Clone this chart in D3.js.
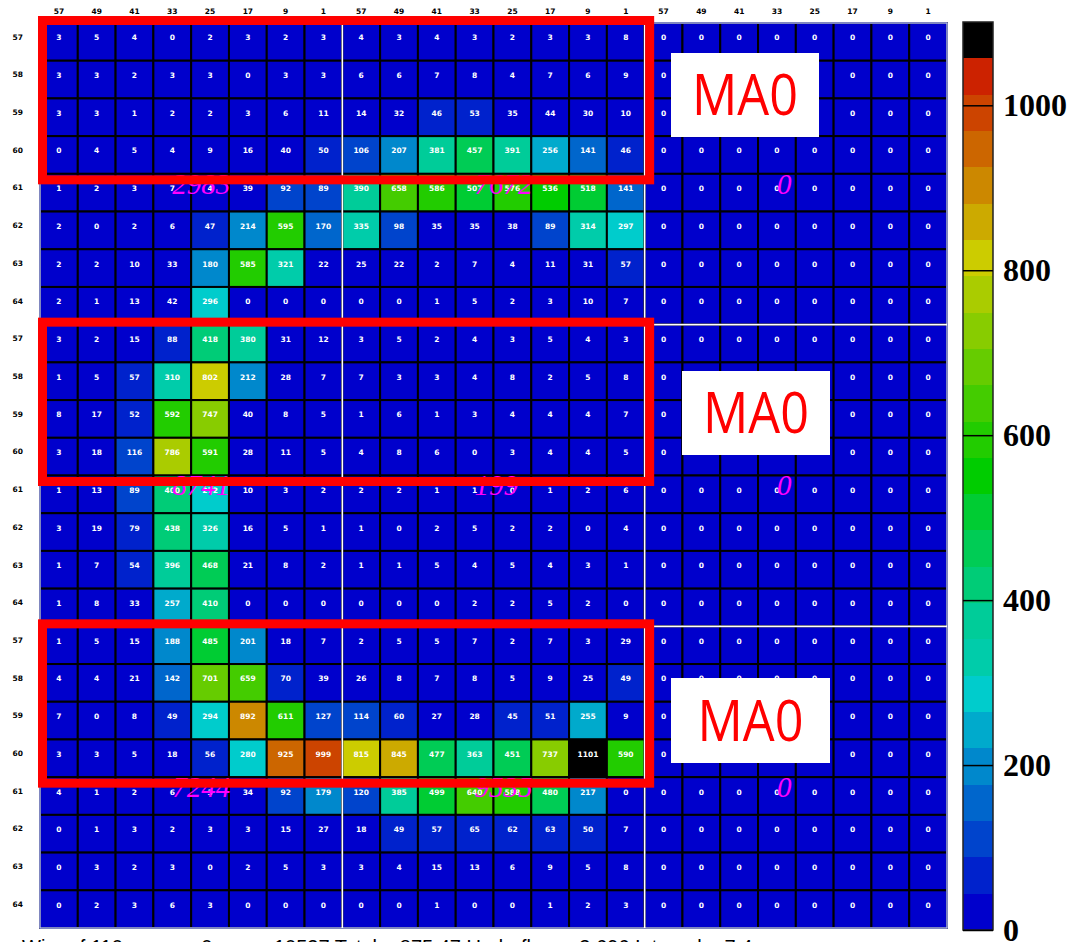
<!DOCTYPE html>
<html>
<head>
<meta charset="utf-8">
<script src="https://cdn.jsdelivr.net/npm/d3@7"></script>
<style>
  html, body { margin: 0; padding: 0; background: #fff; }
  svg { display: block; }
</style>
</head>
<body>
<svg id="chart" width="1073" height="942"></svg>
<script>
// Channel labels along x (three readout blocks) and y (three groups)
const colLabels = [57, 49, 41, 33, 25, 17, 9, 1];
const rowLabels = [57, 58, 59, 60, 61, 62, 63, 64];

// Hit counts per cell, 24 columns (three blocks of 8), one array per group of 8 rows
const groupTop = [
  [3, 5, 4, 0, 2, 3, 2, 3,        4, 3, 4, 3, 2, 3, 3, 8,            0, 0, 0, 0, 0, 0, 0, 0],
  [3, 3, 2, 3, 3, 0, 3, 3,        6, 6, 7, 8, 4, 7, 6, 9,            0, 0, 0, 0, 0, 0, 0, 0],
  [3, 3, 1, 2, 2, 3, 6, 11,       14, 32, 46, 53, 35, 44, 30, 10,    0, 0, 0, 0, 0, 0, 0, 0],
  [0, 4, 5, 4, 9, 16, 40, 50,     106, 207, 381, 457, 391, 256, 141, 46, 0, 0, 0, 0, 0, 0, 0, 0],
  [1, 2, 3, 7, 4, 39, 92, 89,     390, 658, 586, 507, 576, 536, 518, 141, 0, 0, 0, 0, 0, 0, 0, 0],
  [2, 0, 2, 6, 47, 214, 595, 170, 335, 98, 35, 35, 38, 89, 314, 297, 0, 0, 0, 0, 0, 0, 0, 0],
  [2, 2, 10, 33, 180, 585, 321, 22, 25, 22, 2, 7, 4, 11, 31, 57,     0, 0, 0, 0, 0, 0, 0, 0],
  [2, 1, 13, 42, 296, 0, 0, 0,    0, 0, 1, 5, 2, 3, 10, 7,           0, 0, 0, 0, 0, 0, 0, 0]
];
const groupMid = [
  [3, 2, 15, 88, 418, 380, 31, 12, 3, 5, 2, 4, 3, 5, 4, 3,  0, 0, 0, 0, 0, 0, 0, 0],
  [1, 5, 57, 310, 802, 212, 28, 7, 7, 3, 3, 4, 8, 2, 5, 8,  0, 0, 0, 0, 0, 0, 0, 0],
  [8, 17, 52, 592, 747, 40, 8, 5,  1, 6, 1, 3, 4, 4, 4, 7,  0, 0, 0, 0, 0, 0, 0, 0],
  [3, 18, 116, 786, 591, 28, 11, 5, 4, 8, 6, 0, 3, 4, 4, 5, 0, 0, 0, 0, 0, 0, 0, 0],
  [1, 13, 89, 400, 272, 10, 3, 2, 2, 2, 1, 1, 0, 1, 2, 6,   0, 0, 0, 0, 0, 0, 0, 0],
  [3, 19, 79, 438, 326, 16, 5, 1, 1, 0, 2, 5, 2, 2, 0, 4,   0, 0, 0, 0, 0, 0, 0, 0],
  [1, 7, 54, 396, 468, 21, 8, 2,  1, 1, 5, 4, 5, 4, 3, 1,   0, 0, 0, 0, 0, 0, 0, 0],
  [1, 8, 33, 257, 410, 0, 0, 0,   0, 0, 0, 2, 2, 5, 2, 0,   0, 0, 0, 0, 0, 0, 0, 0]
];
const groupBot = [
  [1, 5, 15, 188, 485, 201, 18, 7,   2, 5, 5, 7, 2, 7, 3, 29,            0, 0, 0, 0, 0, 0, 0, 0],
  [4, 4, 21, 142, 701, 659, 70, 39,  26, 8, 7, 8, 5, 9, 25, 49,          0, 0, 0, 0, 0, 0, 0, 0],
  [7, 0, 8, 49, 294, 892, 611, 127,  114, 60, 27, 28, 45, 51, 255, 9,    0, 0, 0, 0, 0, 0, 0, 0],
  [3, 3, 5, 18, 56, 280, 925, 999,   815, 845, 477, 363, 451, 737, 1101, 590, 0, 0, 0, 0, 0, 0, 0, 0],
  [4, 1, 2, 6, 3, 34, 92, 179,       120, 385, 499, 640, 588, 480, 217, 0, 0, 0, 0, 0, 0, 0, 0, 0],
  [0, 1, 3, 2, 3, 3, 15, 27,         18, 49, 57, 65, 62, 63, 50, 7,      0, 0, 0, 0, 0, 0, 0, 0],
  [0, 3, 2, 3, 0, 2, 5, 3,           3, 4, 15, 13, 6, 9, 5, 8,           0, 0, 0, 0, 0, 0, 0, 0],
  [0, 2, 3, 6, 3, 0, 0, 0,           0, 0, 1, 0, 0, 1, 2, 3,             0, 0, 0, 0, 0, 0, 0, 0]
];

// Colour levels of the z palette, lowest to highest
const palette = [
  "#0000cc", "#0022cc", "#0044cc", "#0066cc", "#0088cc", "#00aacc", "#00cccc",
  "#00ccaa", "#00cc99", "#00cc77", "#00cc55", "#00cc33", "#00cc00", "#22cc00",
  "#44cc00", "#66cc00", "#88cc00", "#aacc00", "#cccc00", "#ccaa00", "#cc8800",
  "#cc6600", "#cc4400", "#cc2200", "#000000"
];
const zTicks = [0, 200, 400, 600, 800, 1000];
const statsLine = "Wire of 110   mean = 0   rms = 10537   Total = 875.47   Underflow = 3.696   Integral = 7.4";

// ---- layout ----
const svg = d3.select("#chart");
const grid = { left: 40, top: 23, right: 947, bottom: 928 };
const nCols = 24, nRows = 24;

const rows = [...groupTop, ...groupMid, ...groupBot];
const cells = [];
rows.forEach((r, ri) => r.forEach((v, ci) => cells.push({ row: ri, col: ci, v })));
const zMax = d3.max(cells, d => d.v);

const x = d3.scaleBand().domain(d3.range(nCols)).range([grid.left, grid.right]).paddingInner(0);
const y = d3.scaleBand().domain(d3.range(nRows)).range([grid.top, grid.bottom]).paddingInner(0);
const color = d3.scaleQuantize().domain([0, zMax]).range(palette);

// ---- cells ----
svg.append("g").selectAll("rect").data(cells).join("rect")
  .attr("x", d => x(d.col)).attr("y", d => y(d.row))
  .attr("width", x.bandwidth()).attr("height", y.bandwidth())
  .attr("fill", d => color(d.v))
  .attr("stroke", "#000").attr("stroke-width", 2);

// outer frame and block separators
svg.append("rect")
  .attr("x", grid.left).attr("y", grid.top)
  .attr("width", grid.right - grid.left).attr("height", grid.bottom - grid.top)
  .attr("fill", "none").attr("stroke", "#aab4ff").attr("stroke-width", 1.5);
const sep = svg.append("g").attr("stroke", "#fff").attr("stroke-width", 1.6);
[8, 16].forEach(i => {
  sep.append("line").attr("x1", x(i)).attr("x2", x(i)).attr("y1", grid.top).attr("y2", grid.bottom);
  sep.append("line").attr("x1", x(16)).attr("x2", grid.right).attr("y1", y(i)).attr("y2", y(i));
});

// cell values
svg.append("g").selectAll("text").data(cells).join("text")
  .attr("x", d => x(d.col) + x.bandwidth() / 2)
  .attr("y", d => y(d.row) + y.bandwidth() / 2 - 4)
  .attr("text-anchor", "middle").attr("dominant-baseline", "central")
  .attr("font-family", "DejaVu Sans, sans-serif").attr("font-weight", "bold")
  .attr("font-size", 7.5).attr("fill", "#fff")
  .text(d => d.v);

// ---- axis labels ----
const colAxis = d3.axisTop(x).tickSize(0).tickFormat(i => colLabels[i % 8]);
svg.append("g").attr("transform", `translate(0,${grid.top - 6})`).call(colAxis)
  .call(g => g.select(".domain").remove())
  .selectAll("text").attr("font-family", "DejaVu Sans, sans-serif")
  .attr("font-weight", "bold").attr("font-size", 7.5).attr("fill", "#000");

const rowAxis = d3.axisLeft(y).tickSize(0).tickFormat(i => rowLabels[i % 8]);
svg.append("g").attr("transform", `translate(${grid.left - 14},0)`).call(rowAxis)
  .call(g => g.select(".domain").remove())
  .selectAll("text").attr("font-family", "DejaVu Sans, sans-serif")
  .attr("font-weight", "bold").attr("font-size", 7.5).attr("fill", "#000")
  .attr("dy", "-0.3em");

// ---- block totals (magenta) ----
const blocks = [];
[0, 1, 2].forEach(g => [0, 1, 2].forEach(b => {
  const total = d3.sum(rows.slice(g * 8, g * 8 + 8), r => d3.sum(r.slice(b * 8, b * 8 + 8)));
  blocks.push({ g, b, total });
}));
svg.append("g").selectAll("text").data(blocks).join("text")
  .attr("x", d => x(d.b * 8 + 3) + x.bandwidth() / 2)
  .attr("y", d => y(d.g * 8 + 4) + y.bandwidth() / 2 + 1)
  .attr("font-family", "Liberation Serif, serif").attr("font-style", "italic")
  .attr("font-size", 29).attr("fill", "#ff00ff")
  .text(d => d.total);

// ---- module outlines ----
const modules = [0, 1, 2];
svg.append("g").selectAll("rect").data(modules).join("rect")
  .attr("x", x(0) + 2.5)
  .attr("y", g => y(g * 8) - 2.5)
  .attr("width", x(16) - x(0) + 2.5)
  .attr("height", g => y(g * 8 + 4) - y(g * 8) + 8.5)
  .attr("fill", "none").attr("stroke", "#ff0000").attr("stroke-width", 9);

const tags = [
  { text: "MA0", x: 671, y: 53, w: 148, h: 84 },
  { text: "MA0", x: 682, y: 371, w: 148, h: 84 },
  { text: "MA0", x: 671, y: 678, w: 159, h: 85 }
];
const tagG = svg.append("g").selectAll("g").data(tags).join("g");
tagG.append("rect").attr("x", d => d.x).attr("y", d => d.y)
  .attr("width", d => d.w).attr("height", d => d.h).attr("fill", "#fff");
tagG.append("text").attr("x", d => d.x + d.w / 2).attr("y", d => d.y + d.h / 2 + 20)
  .attr("text-anchor", "middle")
  .attr("font-family", "Open Sans, Liberation Sans, sans-serif").attr("font-size", 56)
  .attr("textLength", 106).attr("lengthAdjust", "spacingAndGlyphs")
  .attr("fill", "#ff0000").text(d => d.text);

// ---- colour bar ----
const bar = { x: 963, w: 30, top: 22, bottom: 930 };
const z = d3.scaleLinear().domain([0, zMax]).range([bar.bottom, bar.top]);
const step = zMax / palette.length;
svg.append("g").selectAll("rect").data(palette).join("rect")
  .attr("x", bar.x).attr("width", bar.w)
  .attr("y", (c, i) => z((i + 1) * step)).attr("height", (c, i) => z(i * step) - z((i + 1) * step))
  .attr("fill", c => c).attr("shape-rendering", "crispEdges");
svg.append("rect").attr("x", bar.x).attr("y", bar.top).attr("width", bar.w)
  .attr("height", bar.bottom - bar.top).attr("fill", "none")
  .attr("stroke", "#222").attr("stroke-width", 1.5);

const zAxis = d3.axisRight(z).tickValues(zTicks).tickSize(bar.w).tickFormat(d3.format("d"));
svg.append("g").attr("transform", `translate(${bar.x},0)`).call(zAxis)
  .call(g => g.select(".domain").remove())
  .call(g => g.selectAll("line").attr("stroke", "#000").attr("stroke-width", 1.5))
  .call(g => g.selectAll("text").attr("x", bar.w + 10)
    .attr("font-family", "Liberation Serif, serif").attr("font-weight", "bold")
    .attr("font-size", 32).attr("fill", "#000"));

// statistics line (clipped by page edge)
svg.append("text").attr("x", 22).attr("y", 954)
  .attr("font-family", "Liberation Sans, sans-serif").attr("font-size", 20).attr("fill", "#000")
  .text(statsLine);
</script>
</body>
</html>
